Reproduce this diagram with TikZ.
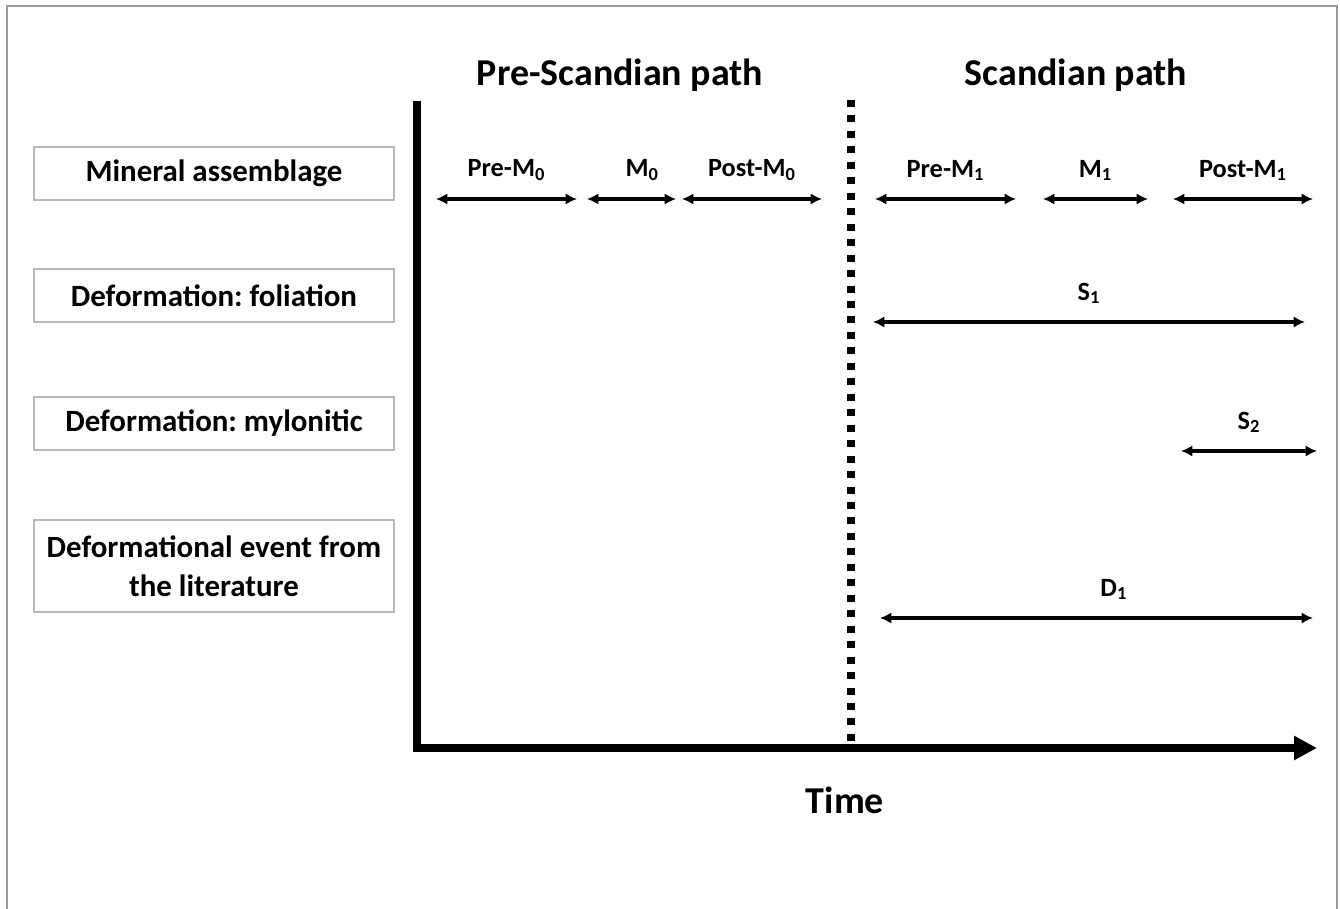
\documentclass[tikz,border=0pt]{standalone}
\usepackage{fontspec}
\setmainfont{Carlito}
\usetikzlibrary{arrows.meta}
\definecolor{framegray}{gray}{0.6}
\definecolor{boxgray}{gray}{0.72}
\frenchspacing

\begin{document}
\begin{tikzpicture}[x=0.02cm,y=-0.02cm]
        \tikzstyle{every node}=[font=\bfseries]
        \tikzstyle{rowbox}=[draw=boxgray,line width=0.8pt,minimum width=7.2cm,minimum height=1.06cm,align=center,font=\bfseries\fontsize{17.6}{22}\selectfont]
        \tikzstyle{title}=[font=\bfseries\fontsize{21.6}{25}\selectfont]
        \tikzstyle{tag}=[above=6pt,font=\bfseries\fontsize{15}{18}\selectfont]
        \tikzstyle{span}=[line width=2pt,{Latex[length=6.5pt,width=6.5pt]}-{Latex[length=6.5pt,width=6.5pt]}]
        \tikzstyle{axis}=[line width=4.4pt,line join=miter,-{Triangle[length=13pt,width=13pt]}]
        \tikzstyle{divide}=[line width=4pt,dash pattern=on 4pt off 4.8pt]
        \useasboundingbox (0,0) rectangle (1340,909);
        \draw[framegray,line width=1.1pt] (7,909) -- (7,6) -- (1337,6) -- (1337,909);
        % row labels
        \node[rowbox] (mineral) at (214,173.5) {Mineral assemblage};
        \node[rowbox] (foliation) at (214,295.5) {Deformation: foliation};
        \node[rowbox] (mylonitic) at (214,423.5) {Deformation: mylonitic};
        \node[rowbox,minimum height=1.84cm] (literature) at (214,566) {Deformational event from\\the literature};
        % axes
        \node[title] (pre) at (620,75) {Pre-Scandian path};
        \node[title] (scand) at (1076,75) {Scandian path};
        \node[title] (time) at (845,800) {Time};
        \coordinate (top) at (417,101);
        \coordinate (orig) at (417,748);
        \coordinate (tend) at (1317,748);
        \draw[axis] (top) -- (orig) -- (tend);
        \coordinate (dtop) at (851,100);
        \coordinate (dbot) at (851,745);
        \draw[divide] (dtop) -- (dbot);
        % mineral assemblage
        \coordinate (pm0a) at (436,199);
        \coordinate (pm0b) at (577,199) edge[span] node[tag] {Pre-M\textsubscript{0}} (pm0a);
        \coordinate (m0a) at (587,199);
        \coordinate (m0b) at (676,199) edge[span] node[tag,pos=.38] {M\textsubscript{0}} (m0a);
        \coordinate (qm0a) at (682,199);
        \coordinate (qm0b) at (822,199) edge[span] node[tag] {Post-M\textsubscript{0}} (qm0a);
        \coordinate (pm1a) at (875,199);
        \coordinate (pm1b) at (1016,199) edge[span] node[tag] {Pre-M\textsubscript{1}} (pm1a);
        \coordinate (m1a) at (1043,199);
        \coordinate (m1b) at (1148,199) edge[span] node[tag] {M\textsubscript{1}} (m1a);
        \coordinate (qm1a) at (1173,199);
        \coordinate (qm1b) at (1313,199) edge[span] node[tag] {Post-M\textsubscript{1}} (qm1a);
        % deformation
        \coordinate (s1a) at (873,322);
        \coordinate (s1b) at (1305,322) edge[span] node[tag] {S\textsubscript{1}} (s1a);
        \coordinate (s2a) at (1181,451);
        \coordinate (s2b) at (1317,451) edge[span] node[tag] {S\textsubscript{2}} (s2a);
        \coordinate (d1a) at (880,618);
        \coordinate (d1b) at (1313,618) edge[span] node[tag,pos=.46] {D\textsubscript{1}} (d1a);
\end{tikzpicture}
\end{document}
